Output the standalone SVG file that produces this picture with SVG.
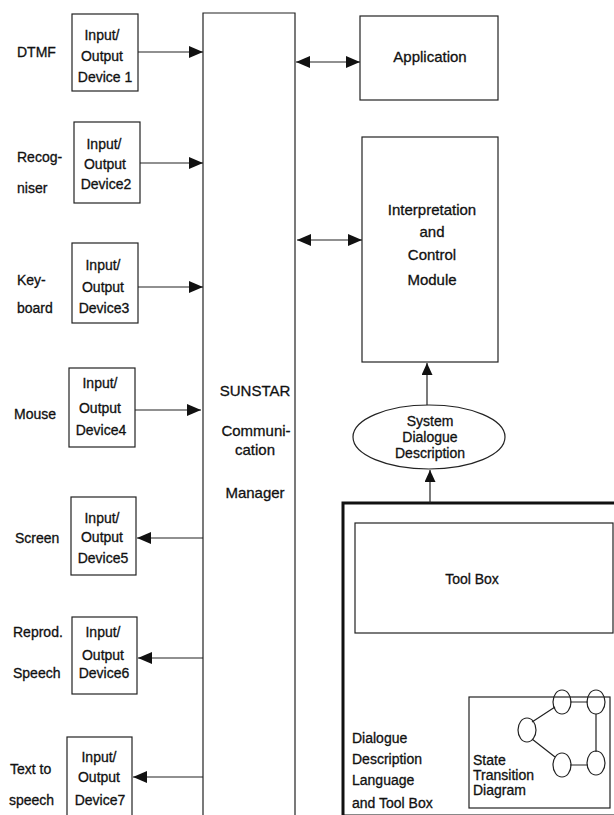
<svg xmlns="http://www.w3.org/2000/svg" width="614" height="815" viewBox="0 0 614 815">
<style>
  text { font-family: "Liberation Sans", Arial, sans-serif; font-size: 14px; fill: #111; stroke: #111; stroke-width: 0.3; }
  .c { text-anchor: middle; }
  .box { fill: none; stroke: #222; stroke-width: 1.2; }
  .thick { fill: none; stroke: #111; stroke-width: 3; }
  .ln { fill: none; stroke: #222; stroke-width: 1.2; }
  .big { font-size: 15px; }
</style>
<defs>
  <marker id="ah" markerUnits="userSpaceOnUse" markerWidth="15" markerHeight="12" refX="14" refY="6" orient="auto-start-reverse">
    <path d="M0,0 L14,6 L0,12 z" fill="#111"/>
  </marker>
  <marker id="av" markerUnits="userSpaceOnUse" markerWidth="12" markerHeight="12" refX="12" refY="5.5" orient="auto">
    <path d="M0,0 L12,5.5 L0,11 z" fill="#111"/>
  </marker>
</defs>

<g id="dev1">
  <rect class="box" x="72" y="14" width="66" height="77"/>
  <text class="c" x="102" y="40">Input/</text>
  <text class="c" x="102" y="61">Output</text>
  <text class="c" x="105" y="82">Device 1</text>
  <text x="17" y="57">DTMF</text>
</g>
<g id="dev2">
  <rect class="box" x="74" y="122" width="66" height="81"/>
  <text class="c" x="104" y="149">Input/</text>
  <text class="c" x="105" y="169">Output</text>
  <text class="c" x="106" y="189">Device2</text>
  <text x="17" y="162">Recog-</text>
  <text x="17" y="193">niser</text>
</g>
<g id="dev3">
  <rect class="box" x="72" y="243" width="66" height="80"/>
  <text class="c" x="103" y="270">Input/</text>
  <text class="c" x="103" y="292">Output</text>
  <text class="c" x="104" y="313">Device3</text>
  <text x="17" y="285">Key-</text>
  <text x="17" y="313">board</text>
</g>
<g id="dev4">
  <rect class="box" x="69" y="368" width="66" height="79"/>
  <text class="c" x="100" y="388">Input/</text>
  <text class="c" x="100" y="413">Output</text>
  <text class="c" x="101" y="435">Device4</text>
  <text x="14" y="419">Mouse</text>
</g>
<g id="dev5">
  <rect class="box" x="71" y="497" width="65" height="78"/>
  <text class="c" x="102" y="523">Input/</text>
  <text class="c" x="102" y="542">Output</text>
  <text class="c" x="103" y="563">Device5</text>
  <text x="15" y="543">Screen</text>
</g>
<g id="dev6">
  <rect class="box" x="72" y="617" width="65" height="77"/>
  <text class="c" x="103" y="637">Input/</text>
  <text class="c" x="103" y="660">Output</text>
  <text class="c" x="104" y="678">Device6</text>
  <text x="13" y="637">Reprod.</text>
  <text x="13" y="678">Speech</text>
</g>
<g id="dev7">
  <rect class="box" x="67" y="737" width="65" height="80"/>
  <text class="c" x="99" y="762">Input/</text>
  <text class="c" x="99" y="782">Output</text>
  <text class="c" x="100" y="805">Device7</text>
  <text x="10" y="774">Text to</text>
  <text x="9" y="805">speech</text>
</g>

<g id="manager">
  <path class="box" d="M203,815 L203,13 L295,13 L295,815"/>
  <text class="c big" x="255" y="396">SUNSTAR</text>
  <text class="c big" x="256" y="436">Communi-</text>
  <text class="c big" x="255" y="455">cation</text>
  <text class="c big" x="255" y="498">Manager</text>
</g>

<g id="application">
  <rect class="box" x="360" y="16" width="138" height="84"/>
  <text class="c big" x="430" y="62">Application</text>
</g>

<g id="interpretation">
  <rect class="box" x="362" y="137" width="136" height="225"/>
  <text class="c big" x="432" y="215">Interpretation</text>
  <text class="c big" x="432" y="237">and</text>
  <text class="c big" x="432" y="260">Control</text>
  <text class="c big" x="432" y="285">Module</text>
</g>

<g id="sdd">
  <ellipse class="box" cx="429" cy="437" rx="76" ry="32"/>
  <text class="c" x="430" y="426">System</text>
  <text class="c" x="430" y="442">Dialogue</text>
  <text class="c" x="430" y="458">Description</text>
</g>

<g id="ddl">
  <rect class="thick" x="343" y="503" width="290" height="313"/>
  <text x="352" y="743">Dialogue</text>
  <text x="352" y="764">Description</text>
  <text x="352" y="785">Language</text>
  <text x="352" y="808">and Tool Box</text>
</g>

<g id="toolbox">
  <rect class="box" x="355" y="523" width="258" height="110"/>
  <text class="c" x="472" y="584">Tool Box</text>
</g>

<g id="std">
  <rect class="box" x="469" y="697" width="141" height="111"/>
  <text x="473" y="765">State</text>
  <text x="473" y="780">Transition</text>
  <text x="473" y="795">Diagram</text>
  <path class="ln" d="M532,722 L555,707 M532,739 L555,757 M570,702 L588,702 M596,714 L596,752 M570,765 L588,765"/>
  <ellipse class="box" cx="527" cy="730" rx="9" ry="12"/>
  <ellipse class="box" cx="562" cy="702" rx="9" ry="12"/>
  <ellipse class="box" cx="596" cy="702" rx="9" ry="12"/>
  <ellipse class="box" cx="562" cy="765" rx="9" ry="12"/>
  <ellipse class="box" cx="596" cy="763" rx="9" ry="12"/>
</g>

<g id="connectors">
  <line class="ln" x1="138" y1="52" x2="203" y2="52" marker-end="url(#ah)"/>
  <line class="ln" x1="140" y1="163" x2="203" y2="163" marker-end="url(#ah)"/>
  <line class="ln" x1="138" y1="287" x2="203" y2="287" marker-end="url(#ah)"/>
  <line class="ln" x1="135" y1="410" x2="201" y2="410" marker-end="url(#ah)"/>
  <line class="ln" x1="203" y1="538" x2="137" y2="538" marker-end="url(#ah)"/>
  <line class="ln" x1="203" y1="658" x2="138" y2="658" marker-end="url(#ah)"/>
  <line class="ln" x1="203" y1="777" x2="133" y2="777" marker-end="url(#ah)"/>
  <line class="ln" x1="296" y1="62" x2="360" y2="62" marker-start="url(#ah)" marker-end="url(#ah)"/>
  <line class="ln" x1="297" y1="240" x2="362" y2="240" marker-start="url(#ah)" marker-end="url(#ah)"/>
  <line class="ln" x1="427" y1="405" x2="427" y2="363" stroke-width="2" marker-end="url(#av)"/>
  <line class="ln" x1="430" y1="503" x2="430" y2="470" stroke-width="2" marker-end="url(#av)"/>
</g>
</svg>
